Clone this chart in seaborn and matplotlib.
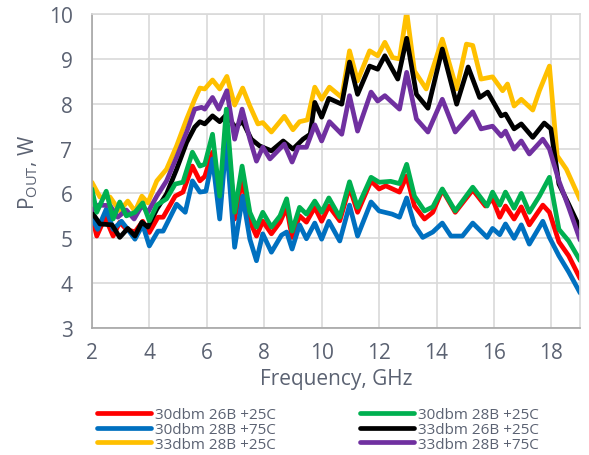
import matplotlib
matplotlib.use("Agg")
import matplotlib.pyplot as plt
import seaborn as sns
import pandas as pd

# ---------------- data ----------------
red_f = [2, 2.17, 2.46, 2.74, 2.97, 3.2, 3.5, 3.77, 4.0, 4.3, 4.48, 4.9, 5.17, 5.5, 5.76, 5.93,
         6.2, 6.45, 6.68, 6.97, 7.23, 7.5, 7.73, 7.95, 8.25, 8.55, 8.78, 8.97, 9.23, 9.47, 9.76,
         10.0, 10.25, 10.63, 10.97, 11.25, 11.72, 12.0, 12.23, 12.71, 12.96, 13.23, 13.58, 13.87,
         14.2, 14.65, 15.26, 15.7, 15.95, 16.2, 16.4, 16.7, 16.95, 17.23, 17.7, 17.93, 18.26,
         18.6, 19.0]
red_v = [5.5, 5.05, 5.47, 5.05, 5.36, 5.2, 5.14, 5.38, 5.13, 5.47, 5.47, 5.94, 6.03, 6.61, 6.28, 6.38,
         6.92, 5.63, 7.66, 5.43, 6.32, 5.38, 5.05, 5.38, 5.1, 5.36, 5.69, 5.02, 5.5, 5.36, 5.69,
         5.38, 5.72, 5.39, 6.14, 5.58, 6.28, 6.1, 6.17, 6.03, 6.39, 5.72, 5.43, 5.58,
         6.08, 5.58, 6.08, 5.72, 5.88, 5.47, 5.72, 5.43, 5.7, 5.3, 5.74, 5.58, 4.92,
         4.61, 4.1]

green_f = [2, 2.17, 2.5, 2.74, 2.97, 3.2, 3.5, 3.77, 4.0, 4.26, 4.6, 4.9, 5.17, 5.5, 5.76, 5.93,
           6.2, 6.45, 6.68, 6.97, 7.23, 7.5, 7.73, 7.95, 8.25, 8.55, 8.78, 8.97, 9.23, 9.47, 9.76,
           10.0, 10.25, 10.63, 10.97, 11.25, 11.72, 12.0, 12.4, 12.71, 12.96, 13.23, 13.58, 13.87,
           14.2, 14.65, 15.26, 15.76, 15.95, 16.2, 16.4, 16.7, 16.95, 17.23, 17.58, 17.93, 18.26,
           18.6, 19.0]
green_v = [6.1, 5.58, 6.05, 5.43, 5.81, 5.5, 5.58, 5.79, 5.39, 5.74, 5.88, 6.21, 6.25, 6.92, 6.61, 6.65,
           7.32, 5.94, 7.88, 5.58, 6.61, 5.58, 5.25, 5.58, 5.25, 5.5, 5.88, 5.16, 5.69, 5.54, 5.83,
           5.58, 5.9, 5.47, 6.26, 5.69, 6.36, 6.25, 6.27, 6.22, 6.65, 5.94, 5.61, 5.7,
           6.1, 5.61, 6.14, 5.72, 6.03, 5.74, 6.03, 5.67, 6.0, 5.58, 5.94, 6.36, 5.2,
           4.94, 4.5]

blue_f = [2, 2.2, 2.5, 2.74, 3.03, 3.25, 3.5, 3.77, 4.0, 4.3, 4.48, 4.95, 5.25, 5.5, 5.76, 5.97,
          6.2, 6.45, 6.68, 6.97, 7.25, 7.5, 7.73, 7.95, 8.25, 8.6, 8.78, 8.97, 9.23, 9.47, 9.76,
          10.0, 10.25, 10.63, 10.97, 11.25, 11.72, 12.0, 12.45, 12.71, 12.96, 13.23, 13.52, 13.87,
          14.2, 14.5, 14.9, 15.26, 15.76, 15.95, 16.2, 16.4, 16.7, 16.95, 17.23, 17.7, 17.93,
          18.26, 18.6, 19.0]
blue_v = [5.47, 5.2, 5.65, 5.2, 5.38, 5.2, 4.98, 5.3, 4.83, 5.16, 5.16, 5.76, 5.58, 6.28, 6.03, 6.05,
          6.77, 5.43, 7.17, 4.8, 5.94, 4.98, 4.5, 5.1, 4.69, 5.07, 5.14, 4.76, 5.3, 4.99, 5.34,
          4.98, 5.38, 4.94, 5.74, 5.05, 5.81, 5.61, 5.54, 5.47, 5.9, 5.3, 5.02, 5.14,
          5.34, 5.05, 5.05, 5.34, 5.02, 5.22, 5.08, 5.32, 5.0, 5.3, 4.87, 5.38, 5.02,
          4.61, 4.25, 3.78]

black_f = [2, 2.28, 2.7, 2.97, 3.25, 3.5, 3.74, 3.95, 4.26, 4.6, 4.95, 5.3, 5.58, 5.76, 5.93,
           6.2, 6.45, 6.7, 6.97, 7.25, 7.55, 7.84, 8.25, 8.66, 9.0, 9.35, 9.6, 9.76, 10.0, 10.25,
           10.7, 10.97, 11.25, 11.67, 11.95, 12.2, 12.65, 12.96, 13.3, 13.7, 14.2, 14.7, 15.1,
           15.5, 15.78, 16.25, 16.4, 16.7, 16.95, 17.35, 17.75, 17.98, 18.26, 18.6, 19.0]
black_v = [5.58, 5.32, 5.3, 5.02, 5.22, 5.05, 5.36, 5.25, 5.65, 5.99, 6.54, 7.14, 7.48, 7.6, 7.55,
           7.73, 7.6, 7.77, 7.48, 7.6, 7.21, 7.06, 6.95, 7.17, 6.99, 7.21, 7.32, 8.03, 7.7, 8.12,
           7.99, 8.93, 8.21, 8.84, 8.77, 9.07, 8.55, 9.46, 8.21, 7.9, 9.22, 7.99, 8.82,
           8.14, 8.26, 7.73, 7.77, 7.44, 7.55, 7.25, 7.57, 7.44, 6.21, 5.76, 5.22]

yellow_f = [2, 2.28, 2.63, 2.97, 3.25, 3.5, 3.74, 3.95, 4.26, 4.6, 4.95, 5.3, 5.58, 5.76, 5.93,
            6.2, 6.45, 6.7, 6.97, 7.25, 7.5, 7.78, 7.95, 8.25, 8.7, 9.0, 9.23, 9.5, 9.76, 10.0,
            10.27, 10.7, 10.97, 11.25, 11.67, 11.95, 12.2, 12.47, 12.71, 12.96, 13.23, 13.64,
            14.2, 14.7, 15.04, 15.26, 15.55, 15.95, 16.3, 16.47, 16.7, 16.95, 17.35, 17.58,
            17.93, 18.2, 18.52, 19.0]
yellow_v = [6.25, 5.92, 5.92, 5.61, 5.83, 5.6, 5.94, 5.79, 6.28, 6.54, 7.06, 7.66, 8.1, 8.35, 8.33,
            8.53, 8.33, 8.61, 7.97, 8.35, 7.95, 7.55, 7.58, 7.37, 7.72, 7.42, 7.6, 7.64, 8.37, 8.1,
            8.37, 8.14, 9.18, 8.51, 9.18, 9.07, 9.37, 9.03, 9.0, 10.05, 8.73, 8.33,
            9.44, 8.33, 9.33, 9.3, 8.55, 8.6, 8.29, 8.44, 7.95, 8.1, 7.86, 8.29,
            8.84, 6.84, 6.54, 5.86]

purple_f = [2, 2.23, 2.63, 2.9, 3.2, 3.47, 3.74, 3.95, 4.26, 4.6, 4.95, 5.3, 5.58, 5.82, 5.93,
            6.2, 6.42, 6.7, 6.97, 7.23, 7.5, 7.73, 7.95, 8.2, 8.7, 8.97, 9.18, 9.47, 9.76, 10.0,
            10.27, 10.7, 10.97, 11.25, 11.72, 11.95, 12.2, 12.71, 12.96, 13.3, 13.7, 14.2, 14.65,
            15.26, 15.55, 15.95, 16.25, 16.4, 16.7, 16.95, 17.23, 17.7, 17.93, 18.26, 18.6, 19.0]
purple_v = [5.63, 5.74, 5.73, 5.47, 5.63, 5.43, 5.73, 5.58, 5.94, 6.28, 6.81, 7.37, 7.88, 7.92, 7.88,
            8.14, 7.88, 8.29, 7.21, 7.88, 7.21, 6.72, 7.03, 6.77, 7.1, 6.7, 7.03, 7.03, 7.53, 7.17,
            7.6, 7.32, 8.18, 7.39, 8.26, 8.06, 8.18, 7.88, 8.7, 7.66, 7.37, 8.1, 7.37,
            7.82, 7.44, 7.5, 7.28, 7.39, 6.99, 7.17, 6.88, 7.21, 6.99, 6.28, 5.69, 4.96]

series_names = ["30dbm 26B +25C", "30dbm 28B +75C", "33dbm 28B +25C",
                "30dbm 28B +25C", "33dbm 26B +25C", "33dbm 28B +75C"]
series_freqs = [red_f, blue_f, yellow_f, green_f, black_f, purple_f]
series_vals = [red_v, blue_v, yellow_v, green_v, black_v, purple_v]
series_colors = ["#ff0000", "#0070c0", "#ffc000", "#00b050", "#000000", "#7030a0"]

x_ticks = [2, 4, 6, 8, 10, 12, 14, 16, 18]
y_ticks = [3, 4, 5, 6, 7, 8, 9, 10]

# ---------------- plot ----------------
sns.set_theme(style="white")
plt.rcParams["font.family"] = ["Open Sans", "DejaVu Sans"]
plt.rcParams["mathtext.fontset"] = "custom"
plt.rcParams["mathtext.rm"] = "Open Sans"

txt = "#5b6272"
frames = []
for name, f, v in zip(series_names, series_freqs, series_vals):
    frames.append(pd.DataFrame({"freq": f, "pout": v, "series": name}))
df = pd.concat(frames, ignore_index=True)

fig = plt.figure(figsize=(5.89, 4.56), dpi=100)
ax = fig.add_axes([0.156, 0.2785, 0.829, 0.6885])

draw_order = ["30dbm 26B +25C", "30dbm 28B +75C", "33dbm 28B +25C",
              "33dbm 26B +25C", "33dbm 28B +75C", "30dbm 28B +25C"]
palette = dict(zip(series_names, series_colors))
sns.lineplot(data=df, x="freq", y="pout", hue="series", hue_order=draw_order,
             palette=palette, sort=False, estimator=None, linewidth=3.4,
             ax=ax, legend=False)
for ln in ax.get_lines():
    ln.set_solid_joinstyle("round")
    ln.set_solid_capstyle("round")

ax.set_xlim(2, 19)
ax.set_ylim(3, 10)
ax.set_xticks(x_ticks)
ax.set_yticks(y_ticks)
ax.grid(True, color="#d9d9d9", linewidth=1.2)
ax.set_axisbelow(True)
for s in ["top", "right"]:
    ax.spines[s].set_color("#d9d9d9")
    ax.spines[s].set_linewidth(1.2)
for s in ["left", "bottom"]:
    ax.spines[s].set_color("#a6a6a6")
    ax.spines[s].set_linewidth(1.2)
ax.tick_params(axis="both", length=0, labelsize=15, labelcolor=txt, pad=10)
ax.tick_params(axis="y", pad=14)
ax.set_xlabel("Frequency, GHz", fontsize=15, color=txt, labelpad=4)
ax.set_ylabel(r"P$_{\mathrm{OUT}}$, W", fontsize=15, color=txt, labelpad=6)

from matplotlib.lines import Line2D
handles = [Line2D([0], [0], color=c, linewidth=3.4, solid_capstyle="round") for c in series_colors]
leg = fig.legend(handles, series_names, ncol=2, loc="upper center",
                 bbox_to_anchor=(0.54, 0.118), frameon=False, fontsize=11,
                 handlelength=3.5, handletextpad=0.3, columnspacing=5.5,
                 labelspacing=-0.02, borderaxespad=0)
for t in leg.get_texts():
    t.set_color(txt)

fig.savefig("out.png", dpi=100)
